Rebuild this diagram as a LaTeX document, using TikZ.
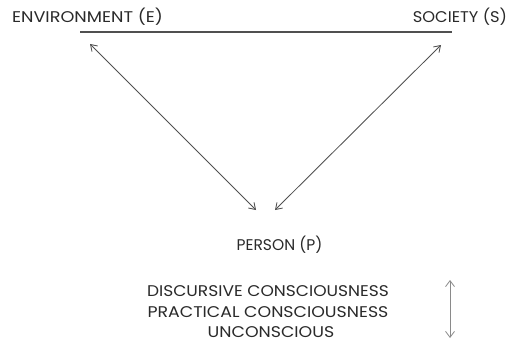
\documentclass[tikz,border=0pt]{standalone}
\usepackage{fontspec}
\setmainfont{Poppins}
\usetikzlibrary{arrows.meta}
\definecolor{txt}{HTML}{2A2A2A}
\definecolor{ln}{HTML}{505050}
\definecolor{lite}{HTML}{8A8A8A}
\newcommand{\sx}[2]{\scalebox{#1}[1]{#2}}
\tikzset{
  lbl/.style={inner sep=0pt, text=txt, font=\fontsize{15.5}{18}\selectfont},
  link/.style={draw=ln, line width=0.85pt, {Straight Barb[length=6pt,width=8pt]}-{Straight Barb[length=6pt,width=8pt]}},
}
\begin{document}
\begin{tikzpicture}[x=1pt,y=-1pt]
\useasboundingbox (0,0) rectangle (514,345);
\fill[white] (0,0) rectangle (514,345);
\node[lbl] (env) at (87.5,17) {\sx{1.14}{ENVIRONMENT (E)}};
\node[lbl] (soc) at (460,17) {\sx{1.05}{SOCIETY (S)}};
\node[lbl] (person) at (279.5,245) {\sx{1.0}{PERSON (P)}};
\node[lbl] (disc) at (268,291) {\sx{1.1}{DISCURSIVE CONSCIOUSNESS}};
\node[lbl] (prac) at (268,312) {\sx{1.12}{PRACTICAL CONSCIOUSNESS}};
\node[lbl] (unc) at (271,332) {\sx{1.12}{UNCONSCIOUS}};
\coordinate (hl) at (80,32);
\coordinate (hr) at (452,32);
\draw[ln, line width=1.2pt] (hl) -- (hr);
\coordinate (eTip) at (90,44);
\coordinate (pL) at (256,210);
\coordinate (sTip) at (441,45);
\coordinate (pR) at (275,210);
\draw[link] (eTip) -- (pL);
\draw[link] (sTip) -- (pR);
\coordinate (vtop) at (450,280);
\coordinate (vbot) at (450,338);
\draw[draw=lite, line width=0.8pt, {Straight Barb[length=6pt,width=9pt]}-{Straight Barb[length=6pt,width=9pt]}] (vtop) -- (vbot);
\end{tikzpicture}
\end{document}
